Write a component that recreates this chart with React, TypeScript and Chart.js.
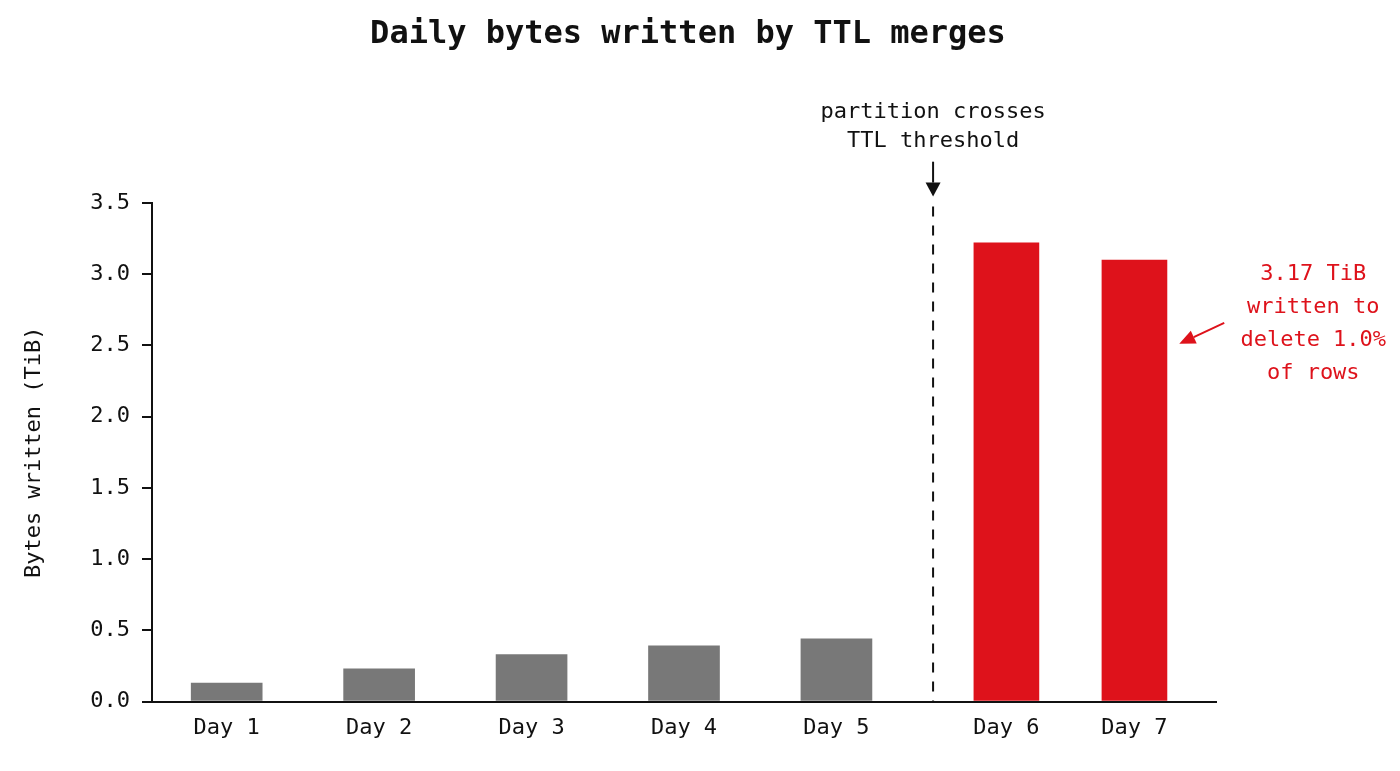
import React, { useEffect, useRef } from 'react';
import Chart from 'chart.js/auto';

// === Data ===
const dayLabels = ['Day 1', 'Day 2', 'Day 3', 'Day 4', 'Day 5', 'Day 6', 'Day 7'];
const dayPositions = [1, 2, 3, 4, 5, 6.115, 6.955];
const bytesWrittenTiB = [0.13, 0.23, 0.33, 0.39, 0.44, 3.22, 3.1];
const firstTtlDay = 5; // index of the first day after the partition crosses the TTL
const thresholdX = 5.634;
const thresholdLines = ['partition crosses', 'TTL threshold'];
const noteLines = ['3.17 TiB', 'written to', 'delete 1.0%', 'of rows'];

const MONO = 'DejaVu Sans Mono';
const INK = '#111111';
const GRAY = '#787878';
const RED = '#de121b';

const drawArrow = (
  ctx: CanvasRenderingContext2D,
  x1: number, y1: number, x2: number, y2: number,
  color: string, head: number, half: number,
) => {
  const len = Math.hypot(x2 - x1, y2 - y1);
  const ux = (x2 - x1) / len;
  const uy = (y2 - y1) / len;
  const bx = x2 - ux * head;
  const by = y2 - uy * head;
  ctx.strokeStyle = color;
  ctx.fillStyle = color;
  ctx.lineWidth = 2;
  ctx.setLineDash([]);
  ctx.beginPath();
  ctx.moveTo(x1, y1);
  ctx.lineTo(bx, by);
  ctx.stroke();
  ctx.beginPath();
  ctx.moveTo(x2, y2);
  ctx.lineTo(bx - uy * half, by + ux * half);
  ctx.lineTo(bx + uy * half, by - ux * half);
  ctx.closePath();
  ctx.fill();
};

// === Annotations: threshold marker and the red note ===
const annotationPlugin = {
  id: 'ttlAnnotations',
  afterDraw(chart: any) {
    const { ctx, chartArea, scales } = chart;
    const x = scales.x;
    const y = scales.y;
    ctx.save();

    // dashed threshold line
    const tx = x.getPixelForValue(thresholdX);
    ctx.strokeStyle = INK;
    ctx.lineWidth = 2;
    ctx.setLineDash([10, 9]);
    ctx.beginPath();
    ctx.moveTo(tx, y.getPixelForValue(3.475));
    ctx.lineTo(tx, chartArea.bottom);
    ctx.stroke();

    drawArrow(ctx, tx, y.getPixelForValue(3.79), tx, y.getPixelForValue(3.545), INK, 14, 7.5);

    ctx.font = `22px "${MONO}"`;
    ctx.textAlign = 'center';
    ctx.textBaseline = 'middle';
    ctx.fillStyle = INK;
    const thresholdTop = y.getPixelForValue(4.135);
    thresholdLines.forEach((line, i) => ctx.fillText(line, tx, thresholdTop + i * 29));

    // red note
    const nx = x.getPixelForValue(8.128);
    const noteTop = y.getPixelForValue(3.0);
    ctx.fillStyle = RED;
    noteLines.forEach((line, i) => ctx.fillText(line, nx, noteTop + i * 33));

    drawArrow(
      ctx,
      x.getPixelForValue(7.544), y.getPixelForValue(2.658),
      x.getPixelForValue(7.249), y.getPixelForValue(2.511),
      RED, 16, 7,
    );

    ctx.restore();
  },
};

export default function App() {
  const canvasRef = useRef<HTMLCanvasElement>(null);

  useEffect(() => {
    if (!canvasRef.current) return;

    const points = dayPositions.map((pos, i) => ({ x: pos, y: bytesWrittenTiB[i] }));

    const chart = new Chart(canvasRef.current, {
      type: 'bar',
      data: {
        datasets: [
          {
            label: 'before TTL',
            data: points.slice(0, firstTtlDay),
            backgroundColor: GRAY,
            barThickness: 71,
            grouped: false,
          },
          {
            label: 'TTL merges',
            data: points.slice(firstTtlDay),
            backgroundColor: RED,
            barThickness: 65,
            grouped: false,
          },
        ],
      },
      options: {
        responsive: false,
        animation: false,
        layout: { padding: { left: 0, right: 24, top: 0, bottom: 0 } },
        plugins: {
          legend: { display: false },
          tooltip: { enabled: false },
          title: {
            display: true,
            text: 'Daily bytes written by TTL merges',
            color: INK,
            font: { family: MONO, size: 32, weight: 'bold' },
            padding: { top: 15, bottom: 149.6 },
          },
        },
        scales: {
          x: {
            type: 'linear',
            offset: false,
            min: 0.51,
            max: 7.49,
            grid: { display: false, drawTicks: false, offset: false },
            border: { display: true, color: INK, width: 2 },
            afterBuildTicks: (scale: any) => {
              scale.ticks = dayPositions.map((value) => ({ value }));
            },
            afterFit: (scale: any) => {
              scale.height = 69.5;
            },
            ticks: {
              autoSkip: false,
              maxRotation: 0,
              padding: 14,
              color: INK,
              font: { family: MONO, size: 22 },
              callback: (_value: any, index: number) => dayLabels[index],
            },
          },
          y: {
            min: 0,
            max: 3.5,
            grid: {
              display: true,
              drawOnChartArea: false,
              drawTicks: true,
              tickLength: 10,
              color: INK,
              lineWidth: 2,
            },
            border: { display: true, color: INK, width: 2 },
            afterFit: (scale: any) => {
              scale.width = 152;
            },
            ticks: {
              stepSize: 0.5,
              padding: 12,
              color: INK,
              font: { family: MONO, size: 22 },
              callback: (value: any) => Number(value).toFixed(1),
            },
            title: {
              display: true,
              text: 'Bytes written (TiB)',
              color: INK,
              font: { family: MONO, size: 22 },
              padding: { top: 21, bottom: 0 },
            },
          },
          // empty right-hand box that reserves room for the red note
          notePad: {
            type: 'linear',
            position: 'right',
            display: true,
            grid: { display: false, drawTicks: false },
            border: { display: false },
            ticks: { display: false },
            afterFit: (scale: any) => {
              scale.width = 160;
            },
          },
        },
      },
      plugins: [annotationPlugin],
    });

    return () => chart.destroy();
  }, []);

  return (
    <div style={{ position: 'absolute', left: 0, top: 0, width: 1400, height: 771, background: '#ffffff' }}>
      <canvas ref={canvasRef} width={1400} height={771} style={{ display: 'block' }} />
    </div>
  );
}
